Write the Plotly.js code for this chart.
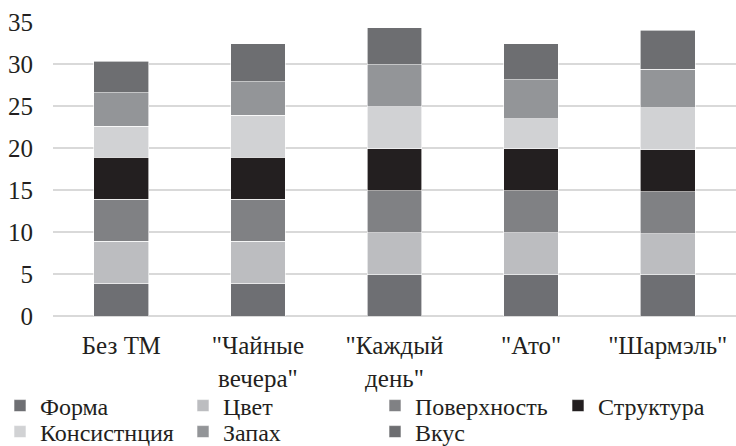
<!DOCTYPE html>
<html>
<head>
<meta charset="utf-8">
<script src="https://cdn.plot.ly/plotly-3.0.1.min.js"></script>
</head>
<body style="margin:0">
<div id="chart"></div>
<script>
var categories = ['Без ТМ', '"Чайные<br>вечера"', '"Каждый<br>день"', '"Ато"', '"Шармэль"'];
var seriesNames = ['Форма', 'Цвет', 'Поверхность', 'Структура', 'Консистнция', 'Запах', 'Вкус'];
var forma        = [3.9, 3.9, 4.9, 4.9, 4.9];
var tsvet        = [5.0, 5.0, 5.0, 5.0, 4.9];
var poverkhnost  = [5.0, 5.0, 5.0, 5.0, 5.0];
var struktura    = [5.0, 5.0, 5.0, 5.0, 5.0];
var konsistentsia= [3.7, 5.0, 5.0, 3.6, 5.0];
var zapakh       = [4.0, 4.0, 5.0, 4.6, 4.6];
var vkus         = [3.7, 4.5, 4.4, 4.3, 4.6];
var seriesValues = [forma, tsvet, poverkhnost, struktura, konsistentsia, zapakh, vkus];
var colors = ['#6e6f73', '#bcbdc0', '#808184', '#231f20', '#d1d2d4', '#939598', '#6d6e71'];

var FONT = 'Times New Roman';

// legend grid: column (0..3) and row (0..1) for each series
var legendCol = [0, 1, 2, 3, 0, 1, 2];
var legendRowIdx = [0, 0, 0, 0, 1, 1, 1];
var colX = [0, 183, 375, 558];
var rowY = [406, 432];

var traces = seriesNames.map(function(name, i) {
  return {
    type: 'bar',
    name: name,
    x: categories,
    y: seriesValues[i],
    legend: i === 0 ? 'legend' : 'legend' + (i + 1),
    marker: {color: colors[i], line: {color: '#ffffff', width: 0.6}},
    hoverinfo: 'none'
  };
});

function legendCfg(xpx, ypx) {
  return {
    orientation: 'v',
    traceorder: 'normal',
    xref: 'container', yref: 'container',
    x: xpx / 736, xanchor: 'left',
    y: 1 - ypx / 446, yanchor: 'middle',
    font: {family: FONT, size: 24, color: '#231f20'},
    bgcolor: 'rgba(0,0,0,0)'
  };
}

var layout = {
  width: 736, height: 446,
  margin: {l: 53, r: 0, t: 22, b: 130, autoexpand: false},
  paper_bgcolor: '#ffffff', plot_bgcolor: '#ffffff',
  barmode: 'stack',
  bargap: 0.6,
  font: {family: FONT, size: 25, color: '#231f20'},
  xaxis: {
    type: 'category',
    showgrid: false,
    showline: false,
    ticks: '',
    ticklabelstandoff: 12,
    tickfont: {family: FONT, size: 25, color: '#231f20'}
  },
  yaxis: {
    range: [0, 35],
    dtick: 5,
    showgrid: true,
    gridcolor: '#d9d9d9',
    gridwidth: 1.5,
    zeroline: true,
    zerolinecolor: '#d9d9d9',
    zerolinewidth: 1.5,
    ticks: '',
    ticklabelstandoff: 19,
    tickfont: {family: FONT, size: 25, color: '#231f20'}
  },
  showlegend: true
};
seriesNames.forEach(function(n, i) {
  var key = i === 0 ? 'legend' : 'legend' + (i + 1);
  layout[key] = legendCfg(colX[legendCol[i]], rowY[legendRowIdx[i]]);
});

Plotly.newPlot('chart', traces, layout, {displayModeBar: false}).then(function() {
  var texts = document.querySelectorAll('#chart text');
  for (var k = 0; k < texts.length; k++) {
    texts[k].style.setProperty('font-family', "'Liberation Serif', 'Times New Roman', serif", 'important');
    texts[k].setAttribute('font-family', 'Liberation Serif');
  }
});
</script>
</body>
</html>
